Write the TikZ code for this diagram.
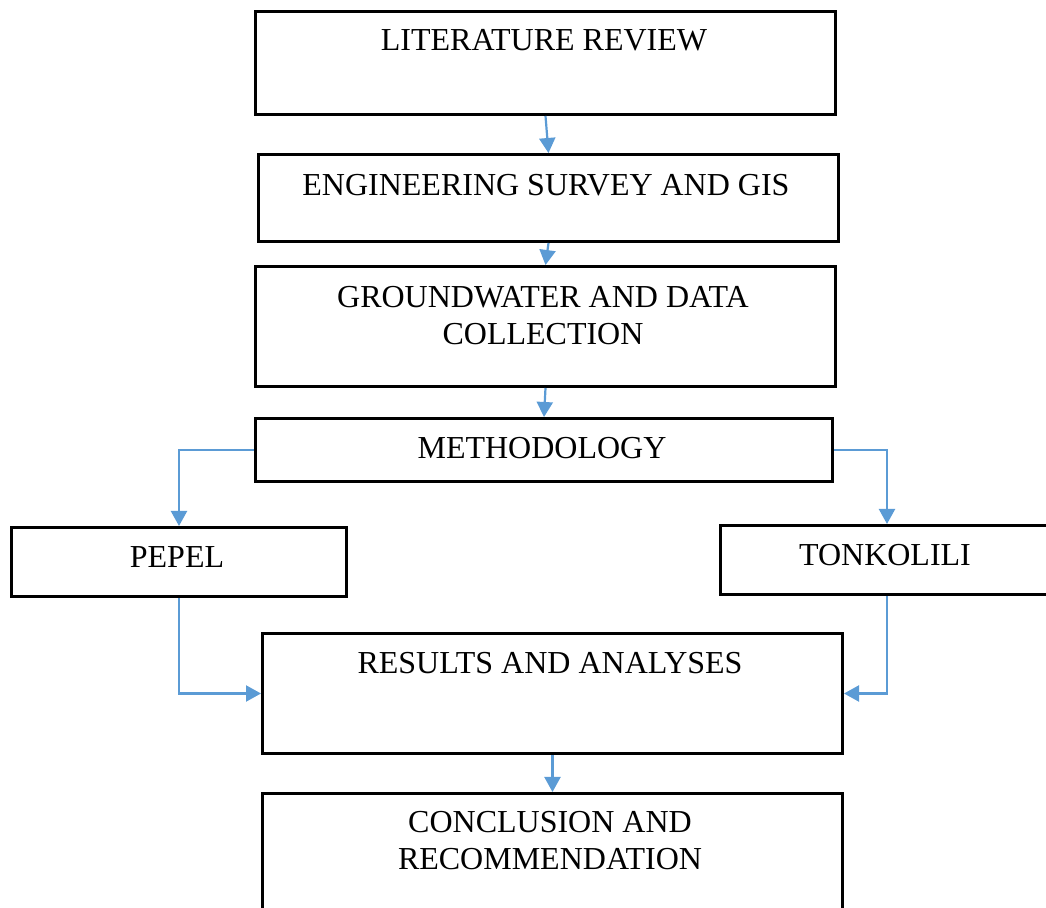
\documentclass[tikz,border=0pt]{standalone}
\usepackage{fontspec}
\setmainfont{Liberation Serif}
\usetikzlibrary{arrows.meta}
\definecolor{arrowblue}{RGB}{91,155,213}
\begin{document}
\begin{tikzpicture}[x=0.5pt,y=-0.5pt,
  box/.style={draw=black,line width=1.5pt,inner sep=0pt,anchor=north west},
  lbl/.style={font=\fontsize{16}{18.5}\selectfont,inner sep=0pt,align=center},
  conn/.style={draw=arrowblue,line width=1.1pt,-{Triangle[length=7.5pt,width=8pt]}}]
\clip (0,0) rectangle (1046,908);
% boxes
\node[box,minimum width=290pt,minimum height=51.5pt] (lit) at (254,10) {};
\node[box,minimum width=290pt,minimum height=43.5pt] (eng) at (257,153) {};
\node[box,minimum width=290pt,minimum height=60pt] (gw) at (254,265) {};
\node[box,minimum width=288.5pt,minimum height=31.5pt] (meth) at (254,417) {};
\node[box,minimum width=167.5pt,minimum height=34.5pt] (pepel) at (10,526) {};
\node[box,minimum width=166.5pt,minimum height=34.5pt] (tonk) at (719,524) {};
\node[box,minimum width=290pt,minimum height=60pt] (res) at (261,632) {};
\node[box,minimum width=290pt,minimum height=79pt] (conc) at (261,792) {};
% labels
\node[lbl] (litT) at (544,40) {LITERATURE REVIEW};
\node[lbl] (engT) at (546,185) {ENGINEERING SURVEY AND GIS};
\node[lbl] (gwT) at (543,315.5) {GROUNDWATER AND DATA\\COLLECTION};
\node[lbl] (methT) at (542,448) {METHODOLOGY};
\node[lbl] (pepelT) at (177,557) {PEPEL};
\node[lbl] (tonkT) at (885,555) {TONKOLILI};
\node[lbl] (resT) at (550,663) {RESULTS AND ANALYSES};
\node[lbl] (concT) at (550,841) {CONCLUSION AND\\RECOMMENDATION};
% connectors
\draw[conn] (lit.south) -- (eng.north);
\draw[conn] (eng.south) -- (gw.north);
\draw[conn] (gw.south) -- (meth.north);
\draw[conn] (meth.west) -| (pepel.north);
\draw[conn] (meth.east) -| (tonk.north);
\draw[conn] (pepel.south) |- (res.west);
\draw[conn] (tonk.south) |- (res.east);
\draw[conn] (res.south) -- (conc.north);
\end{tikzpicture}
\end{document}
